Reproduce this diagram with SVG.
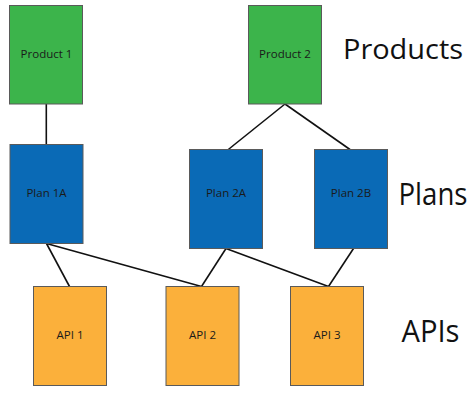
<svg xmlns="http://www.w3.org/2000/svg" width="476" height="405" viewBox="0 0 476 405">
<style>
.box{stroke:#5a5a5a;stroke-width:1}
.prod{fill:#3cb44b}
.plan{fill:#0a6ab6}
.api{fill:#fbb03b}
.lbl{font-family:"Open Sans","Noto Sans",sans-serif;font-size:11.5px;fill:#1a1a1a;text-anchor:middle}
.big{font-family:"Open Sans","Noto Sans",sans-serif;fill:#111}
#edges line{stroke:#111;stroke-width:1.6}
</style>
<rect width="476" height="405" fill="#fff"/>
<g id="edges">
<line x1="46.3" y1="104" x2="46.3" y2="144.5"/>
<line x1="285" y1="104" x2="228.3" y2="149.5"/>
<line x1="285" y1="104" x2="350" y2="149.5"/>
<line x1="46.5" y1="243.5" x2="69.5" y2="286.5"/>
<line x1="46.5" y1="243.5" x2="201.5" y2="286.5"/>
<line x1="226" y1="248.5" x2="201.5" y2="286.5"/>
<line x1="226" y1="248.5" x2="328.5" y2="286.5"/>
<line x1="353.5" y1="248.5" x2="328.5" y2="286.5"/>
</g>
<g id="product1"><rect class="box prod" x="9.5" y="5.5" width="73" height="98.5"/><text class="lbl" x="46.5" y="57.5">Product 1</text></g>
<g id="product2"><rect class="box prod" x="248.5" y="5.5" width="73" height="98.5"/><text class="lbl" x="285" y="57.5">Product 2</text></g>
<g id="plan1a"><rect class="box plan" x="10" y="144.5" width="73" height="99"/><text class="lbl" x="46.5" y="196.5">Plan 1A</text></g>
<g id="plan2a"><rect class="box plan" x="189.5" y="149.5" width="73" height="99"/><text class="lbl" x="226" y="196.5">Plan 2A</text></g>
<g id="plan2b"><rect class="box plan" x="314.5" y="149.5" width="73" height="99"/><text class="lbl" x="351" y="196.5">Plan 2B</text></g>
<g id="api1"><rect class="box api" x="33.5" y="286.5" width="73" height="99"/><text class="lbl" x="70" y="338.5">API 1</text></g>
<g id="api2"><rect class="box api" x="166" y="286.5" width="73" height="99"/><text class="lbl" x="202.5" y="338.5">API 2</text></g>
<g id="api3"><rect class="box api" x="290.5" y="286.5" width="73" height="99"/><text class="lbl" x="327" y="338.5">API 3</text></g>
<g id="label-products"><text class="big" x="343" y="58.5" font-size="28" textLength="120" lengthAdjust="spacingAndGlyphs">Products</text></g>
<g id="label-plans"><text class="big" x="398.5" y="205" font-size="31" textLength="69" lengthAdjust="spacingAndGlyphs">Plans</text></g>
<g id="label-apis"><text class="big" x="401.5" y="341.7" font-size="31" textLength="58" lengthAdjust="spacingAndGlyphs">APIs</text></g>
</svg>
